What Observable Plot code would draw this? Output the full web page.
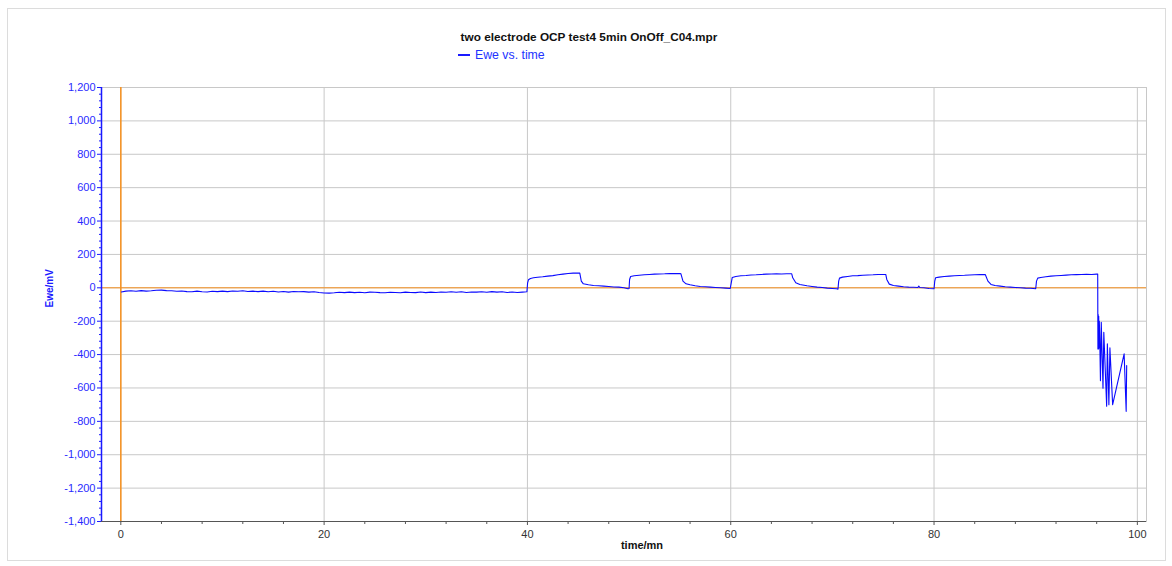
<!DOCTYPE html>
<html>
<head>
<meta charset="utf-8">
<script src="https://cdn.jsdelivr.net/npm/d3@7"></script>
<script src="https://cdn.jsdelivr.net/npm/@observablehq/plot@0.6"></script>
<style>
  html, body { margin: 0; padding: 0; background: #fff; }
  #wrap { position: relative; width: 1172px; height: 566px; font-family: "Liberation Sans", Arial, sans-serif; }
  #border { position: absolute; left: 7px; top: 8px; width: 1157px; height: 551px; border: 1px solid #dcdcdc; pointer-events: none; }
  #title { position: absolute; left: 0; width: 1178px; top: 30px; text-align: center; font-weight: bold; font-size: 11.8px; color: #111; }
  #legend { position: absolute; left: 458px; top: 48px; font-size: 12.3px; color: #2233ff; display: flex; align-items: center; }
  #legend span.sw { display: inline-block; width: 12px; height: 1.5px; background: #1a1aff; margin-right: 5px; }
  #plot { position: absolute; left: 0; top: 0; }
</style>
</head>
<body>
<div id="wrap">
  <div id="plot"></div>
  <div id="border"></div>
  <div id="title">two electrode OCP test4 5min OnOff_C04.mpr</div>
  <div id="legend"><span class="sw"></span>Ewe vs. time</div>
</div>
<script>
const title = "two electrode OCP test4 5min OnOff_C04.mpr";
const seriesName = "Ewe vs. time";
const xLabel = "time/mn";
const yLabel = "Ewe/mV";

const xTicks = [0, 20, 40, 60, 80, 100];
const yTicks = [-1400, -1200, -1000, -800, -600, -400, -200, 0, 200, 400, 600, 800, 1000, 1200];

// time (min)
const time = [
  0.05, 0.5, 1, 1.5, 2, 2.5, 3, 3.5, 4, 4.5, 5, 5.5, 6, 6.5, 7, 7.5, 8, 8.5, 9, 9.5,
  10, 10.5, 11, 11.5, 12, 12.5, 13, 13.5, 14, 14.5, 15, 15.5, 16, 16.5, 17, 17.5, 18, 18.5, 19, 19.5,
  20, 20.5, 21, 21.5, 22, 22.5, 23, 23.5, 24, 24.5, 25, 25.5, 26, 26.5, 27, 27.5, 28, 28.5, 29, 29.5,
  30, 30.5, 31, 31.5, 32, 32.5, 33, 33.5, 34, 34.5, 35, 35.5, 36, 36.5, 37, 37.5, 38, 38.5, 39, 39.5, 39.95,
  40.02, 40.1, 40.3, 40.6, 41, 41.5, 42, 42.5, 43, 43.5, 44, 44.5, 45, 45.15, 45.3, 45.5, 46, 46.5, 47, 47.5, 48, 48.5, 49, 49.5, 49.9, 50.0,
  50.05, 50.15, 50.5, 51, 51.5, 52, 52.5, 53, 53.5, 54, 54.5, 55, 55.1, 55.3, 55.6, 56, 56.5, 57, 57.5, 58, 58.5, 59, 59.5, 59.95,
  60.05, 60.15, 60.5, 61, 61.5, 62, 62.5, 63, 63.5, 64, 64.5, 65, 65.5, 66.0, 66.1, 66.4, 66.8, 67.5, 68, 68.5, 69, 69.5, 70, 70.4, 70.55,
  70.62, 70.7, 71, 71.5, 72, 72.5, 73, 73.5, 74, 74.5, 75, 75.25, 75.35, 75.6, 76, 76.5, 77, 77.5, 78, 78.4, 78.5, 78.6, 79, 79.5, 80,
  80.07, 80.15, 80.5, 81, 81.5, 82, 82.5, 83, 83.5, 84, 84.5, 85, 85.05, 85.3, 85.6, 86, 86.5, 87, 87.5, 88, 88.5, 89, 89.5, 90,
  90.08, 90.2, 90.5, 91, 91.5, 92, 92.5, 93, 93.5, 94, 94.5, 95, 95.5, 96, 96.1,
  96.12, 96.15, 96.18, 96.2, 96.23, 96.26, 96.3, 96.37, 96.45, 96.62, 96.7, 96.98, 97.05, 97.2, 97.3, 97.57, 98.7, 98.9, 98.95
];

// Ewe (mV)
const ewe = [
  -25, -20, -18, -21, -17, -20, -18, -15, -14, -17, -18, -21, -19, -23, -24, -20, -24, -25, -21, -23,
  -20, -23, -19, -21, -18, -22, -20, -23, -20, -24, -21, -25, -22, -26, -22, -24, -23, -26, -24, -28,
  -31, -32, -30, -27, -29, -26, -29, -27, -30, -26, -27, -29, -30, -27, -28, -30, -26, -28, -29, -25,
  -29, -26, -28, -25, -27, -24, -27, -24, -28, -25, -26, -24, -27, -23, -26, -24, -28, -25, -28, -26, -24,
  30, 48, 56, 60, 63, 66, 70, 73, 78, 82, 86, 88, 89, 88, 40, 24, 18, 14, 12, 10, 8, 5, 4, 0, -6, -4,
  50, 68, 72, 75, 78, 80, 82, 83, 84, 86, 85, 86, 84, 40, 24, 18, 12, 8, 6, 4, 2, 0, -2, -4,
  30, 62, 68, 72, 74, 77, 78, 80, 82, 83, 84, 83, 84, 84, 60, 30, 20, 12, 8, 4, 2, -2, -4, -6, -8,
  40, 58, 64, 68, 72, 73, 75, 77, 78, 80, 80, 80, 50, 22, 14, 10, 6, 4, 3, 2, 10, 2, 0, -4, -6,
  40, 60, 64, 68, 70, 72, 74, 75, 77, 78, 79, 80, 78, 40, 20, 14, 10, 6, 4, 2, 0, -2, -3, -6,
  40, 58, 62, 66, 70, 72, 74, 76, 78, 79, 80, 81, 80, 82, 82,
  -366, -160, -366, -170, -360, -200, -300, -556, -206, -602, -266, -710, -336, -700, -360, -700, -396, -740, -466
];

const data = time.map((t, i) => ({t, v: ewe[i]}));
const yMinor = d3.range(-1400, 1201, 40).filter(d => d % 200 !== 0);
const xMinor = d3.range(0, 101, 4).filter(d => d % 20 !== 0);
const fmtY = d => d3.format(",")(d).replace("\u2212", "-");
const blue = "#1a1aff";

const chart = Plot.plot({
  width: 1172,
  height: 566,
  marginLeft: 101,
  marginRight: 26,
  marginTop: 87,
  marginBottom: 45,
  style: {fontFamily: "Liberation Sans, Arial, sans-serif", fontSize: "11px", background: "transparent", overflow: "visible"},
  x: {domain: [-1.9, 100.9]},
  y: {domain: [-1400, 1200]},
  marks: [
    Plot.gridX(xTicks, {stroke: "#c8c8c8", strokeOpacity: 1}),
    Plot.gridY(yTicks, {stroke: "#c8c8c8", strokeOpacity: 1}),
    Plot.frame({stroke: "#c8c8c8"}),
    Plot.ruleY([0], {stroke: "#f7901e", strokeWidth: 1}),
    Plot.ruleX([0], {stroke: "#f7901e", strokeWidth: 1.5}),
    Plot.line(data, {x: "t", y: "v", stroke: "#0a0aff", strokeWidth: 1.1}),
    Plot.axisY(yTicks, {anchor: "left", tickSize: 4, tickPadding: 2, tickFormat: fmtY, stroke: blue, fill: "#2a2aff", label: null, fontSize: 11}),
    Plot.axisY(yMinor, {anchor: "left", tickSize: 2, text: null, stroke: blue, label: null}),
    Plot.ruleX([-1.9], {stroke: blue, strokeWidth: 1.5}),
    Plot.axisX(xTicks, {anchor: "bottom", tickSize: 4, tickPadding: 5, stroke: "#555", fill: "#333", label: null, fontSize: 11}),
    Plot.axisX(xMinor, {anchor: "bottom", tickSize: 3, text: null, stroke: "#555", label: null}),
    Plot.ruleY([-1400], {stroke: "#555", strokeWidth: 1.2}),
    Plot.text([xLabel], {frameAnchor: "bottom", dy: 27, dx: 18, fontWeight: "bold", fontSize: 11, fill: "#111", text: d => d}),
    Plot.text([yLabel], {frameAnchor: "left", dx: -52, dy: 3, rotate: -90, fontWeight: "bold", fontSize: 10, fill: blue, text: d => d})
  ]
});
document.getElementById("plot").appendChild(chart);
</script>
</body>
</html>
